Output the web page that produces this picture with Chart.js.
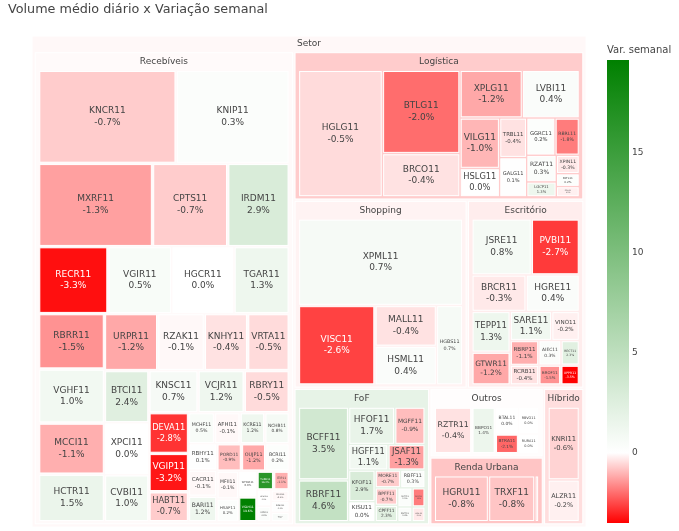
<!DOCTYPE html>
<html>
<head>
<meta charset="utf-8">
<script src="https://cdn.jsdelivr.net/npm/chart.js@4.4.1/dist/chart.umd.min.js"></script>
<style>
  html, body { margin: 0; padding: 0; background: #fff; }
</style>
</head>
<body>
<canvas id="chart" width="679" height="531"></canvas>
<script>
// Volume médio diário (tamanho) x Variação semanal (cor), por setor
const rootLabel = 'Setor';

const tickers = [
  // Recebíveis
  'KNCR11', 'KNIP11', 'MXRF11', 'CPTS11', 'IRDM11', 'RECR11', 'VGIR11', 'HGCR11',
  'TGAR11', 'RBRR11', 'VGHF11', 'MCCI11', 'HCTR11', 'URPR11', 'RZAK11', 'KNHY11',
  'VRTA11', 'BTCI11', 'XPCI11', 'CVBI11', 'KNSC11', 'VCJR11', 'RBRY11', 'DEVA11',
  'VGIP11', 'HABT11', 'MCHF11', 'AFHI11', 'KCRE11', 'NCHB11', 'RBHY11', 'CACR11',
  'BARI11', 'PORD11', 'OUJP11', 'BCRI11', 'MFII11', 'HSAF11', 'WHGR11', 'VSLH11',
  'TORD11', 'ITIP11', 'HCHG11', 'VCRI11', 'PLCR11', 'RZAG11', 'SPXS11',
  // Logística
  'HGLG11', 'BTLG11', 'BRCO11', 'XPLG11', 'LVBI11', 'VILG11', 'HSLG11', 'TRBL11',
  'GALG11', 'GGRC11', 'RBRL11', 'RZAT11', 'LGCP11', 'XPIN11', 'PATL11', 'SDIL11',
  // Shopping
  'XPML11', 'VISC11', 'MALL11', 'HSML11', 'HGBS11',
  // Escritório
  'JSRE11', 'PVBI11', 'BRCR11', 'HGRE11', 'TEPP11', 'GTWR11', 'SARE11', 'VINO11',
  'RBRP11', 'RCRB11', 'AIEC11', 'RECT11', 'BROF11', 'XPPR11',
  // FoF
  'BCFF11', 'RBRF11', 'HFOF11', 'MGFF11', 'HGFF11', 'JSAF11', 'KFOF11', 'KISU11',
  'MORE11', 'RBFF11', 'BPFF11', 'CPFF11', 'OUFF11', 'RFOF11', 'SNFF11', 'XPSF11',
  // Outros
  'RZTR11', 'BBPO11', 'BTAL11', 'RBVO11', 'BTRA11', 'RURA11',
  // Renda Urbana
  'HGRU11', 'TRXF11', 'RBVA11',
  // Híbrido
  'KNRI11', 'ALZR11'
];

const sectorOf = [
  'Recebíveis', 'Recebíveis', 'Recebíveis', 'Recebíveis', 'Recebíveis', 'Recebíveis', 'Recebíveis', 'Recebíveis',
  'Recebíveis', 'Recebíveis', 'Recebíveis', 'Recebíveis', 'Recebíveis', 'Recebíveis', 'Recebíveis', 'Recebíveis',
  'Recebíveis', 'Recebíveis', 'Recebíveis', 'Recebíveis', 'Recebíveis', 'Recebíveis', 'Recebíveis', 'Recebíveis',
  'Recebíveis', 'Recebíveis', 'Recebíveis', 'Recebíveis', 'Recebíveis', 'Recebíveis', 'Recebíveis', 'Recebíveis',
  'Recebíveis', 'Recebíveis', 'Recebíveis', 'Recebíveis', 'Recebíveis', 'Recebíveis', 'Recebíveis', 'Recebíveis',
  'Recebíveis', 'Recebíveis', 'Recebíveis', 'Recebíveis', 'Recebíveis', 'Recebíveis', 'Recebíveis',
  'Logística', 'Logística', 'Logística', 'Logística', 'Logística', 'Logística', 'Logística', 'Logística',
  'Logística', 'Logística', 'Logística', 'Logística', 'Logística', 'Logística', 'Logística', 'Logística',
  'Shopping', 'Shopping', 'Shopping', 'Shopping', 'Shopping',
  'Escritório', 'Escritório', 'Escritório', 'Escritório', 'Escritório', 'Escritório', 'Escritório', 'Escritório',
  'Escritório', 'Escritório', 'Escritório', 'Escritório', 'Escritório', 'Escritório',
  'FoF', 'FoF', 'FoF', 'FoF', 'FoF', 'FoF', 'FoF', 'FoF',
  'FoF', 'FoF', 'FoF', 'FoF', 'FoF', 'FoF', 'FoF', 'FoF',
  'Outros', 'Outros', 'Outros', 'Outros', 'Outros', 'Outros',
  'Renda Urbana', 'Renda Urbana', 'Renda Urbana',
  'Híbrido', 'Híbrido'
];

const volumes = [
  135, 111, 100, 66, 54, 49, 45, 44,
  39, 38.5, 37.5, 35.5, 33, 32, 28, 26,
  25, 24.5, 24.4, 22, 21.8, 20.5, 20, 17,
  16, 12.5, 8.5, 8.4, 8.1, 8.0, 7.9, 7.8,
  7.6, 7.1, 7.0, 6.8, 6.4, 5.2, 5.0, 4.8,
  3.3, 3.1, 2.4, 2.3, 2.2, 2.1, 1.8,
  125, 76, 39.5, 35, 32, 23.5, 13.2, 12.6,
  12.5, 12.4, 10.7, 9.3, 5.2, 5.0, 3.5, 2.8,
  164.9, 70.6, 29.1, 27.6, 24.2,
  39.7, 32.1, 23.6, 23.2, 18.6, 15.0, 14.4, 9.6,
  8.5, 6.7, 6.5, 5.4, 5.2, 4.4,
  45.3, 26.0, 21.4, 14.1, 12.5, 11.8, 10.4, 6.6,
  5.6, 5.4, 4.9, 4.6, 3.4, 3.1, 2.6, 2.4,
  27.2, 17.0, 9.7, 8.5, 7.1, 6.2,
  38.9, 33.3, 2.8,
  34.2, 19.6
];

// variação semanal (%)
const variations = [
  -0.7, 0.3, -1.3, -0.7, 2.9, -3.3, 0.5, 0.0,
  1.3, -1.5, 1.0, -1.1, 1.5, -1.2, -0.1, -0.4,
  -0.5, 2.4, 0.0, 1.0, 0.7, 1.2, -0.5, -2.8,
  -3.2, -0.7, 0.5, -0.1, 1.2, 0.8, 0.1, -0.1,
  1.2, -0.9, -1.2, 0.2, -0.1, 0.2, 0.0, 19.6,
  16.4, -1.1, 0.0, 0.3, -0.1, 0.1, 0.4,
  -0.5, -2.0, -0.4, -1.2, 0.4, -1.0, 0.0, -0.4,
  0.1, 0.2, -1.8, 0.3, 1.3, -0.3, 0.2, -0.2,
  0.7, -2.6, -0.4, 0.4, 0.7,
  0.8, -2.7, -0.3, 0.4, 1.3, -1.2, 1.1, -0.2,
  -1.1, -0.4, 0.3, 2.3, -1.5, -3.5,
  3.5, 4.6, 1.7, -0.9, 1.1, -1.3, 2.9, 0.0,
  -0.7, 0.3, -0.7, 2.3, 0.3, -1.8, 0.4, -0.3,
  -0.4, 1.4, 0.0, 0.0, -2.1, 0.0,
  -0.8, -0.8, -0.6,
  -0.6, -0.2
];

const colorbarTicks = [0, 5, 10, 15];

const FONT = '"DejaVu Sans", Verdana, sans-serif';
const TEXT_DARK = '#444';
const TM_W = 554, TM_H = 491;
const PAD_ROOT = { t: 16.7, l: 3.2, r: 3.2, b: 3.2 };
const PAD_SECTOR = { t: 18.8, l: 4.6, r: 4.6, b: 3.3 };
const PAD_INNER = 2.4;
const SQUARIFY_RATIO = 1;

const vMin = Math.min(...variations);
const vMax = Math.max(...variations);

// red -> white (0) -> green
function colorFor(v) {
    let r, g, b;
    if (v < 0) {
        const t = Math.min(1, v / vMin);
        r = 255; g = b = 255 * (1 - t);
    } else {
        const t = Math.min(1, v / vMax);
        r = b = 255 * (1 - t); g = 255 - 127 * t;
    }
    return [Math.round(r), Math.round(g), Math.round(b)];
}

function textColorFor(rgb) {
    const brightness = (rgb[0] * 299 + rgb[1] * 587 + rgb[2] * 114) / 1000;
    return brightness < 128 ? '#fff' : TEXT_DARK;
}

function buildTree() {
    const root = { name: rootLabel, depth: 0, children: [] };
    const bySector = {};
    tickers.forEach((t, i) => {
        const s = sectorOf[i];
        if (!bySector[s]) {
            bySector[s] = { name: s, depth: 1, children: [] };
            root.children.push(bySector[s]);
        }
        bySector[s].children.push({ name: t, depth: 2, value: volumes[i], v: variations[i] });
    });
    const sum = node => {
        if (!node.children) return;
        let total = 0, weighted = 0;
        node.children.forEach(c => {
            sum(c);
            total += c.value;
            weighted += c.value * c.v;
        });
        node.value = total;
        node.v = weighted / total;
        node.children.sort((a, b) => b.value - a.value);
    };
    sum(root);
    return root;
}

function dice(row, total, x0, y0, x1, y1) {
    const k = total ? (x1 - x0) / total : 0;
    row.forEach(n => { n.y0 = y0; n.y1 = y1; n.x0 = x0; n.x1 = x0 += n.value * k; });
}

function slice(row, total, x0, y0, x1, y1) {
    const k = total ? (y1 - y0) / total : 0;
    row.forEach(n => { n.x0 = x0; n.x1 = x1; n.y0 = y0; n.y1 = y0 += n.value * k; });
}

function squarify(parent, x0, y0, x1, y1) {
    const nodes = parent.children, n = nodes.length;
    let value = parent.value, i0 = 0, i1 = 0;
    while (i0 < n) {
        const dx = x1 - x0, dy = y1 - y0;
        let sumValue;
        do sumValue = nodes[i1++].value; while (!sumValue && i1 < n);
        let minValue = sumValue, maxValue = sumValue;
        const alpha = Math.max(dy / dx, dx / dy) / (value * SQUARIFY_RATIO);
        let beta = sumValue * sumValue * alpha;
        let minRatio = Math.max(maxValue / beta, beta / minValue);
        for (; i1 < n; ++i1) {
            const nv = nodes[i1].value;
            sumValue += nv;
            if (nv < minValue) minValue = nv;
            if (nv > maxValue) maxValue = nv;
            beta = sumValue * sumValue * alpha;
            const newRatio = Math.max(maxValue / beta, beta / minValue);
            if (newRatio > minRatio) { sumValue -= nv; break; }
            minRatio = newRatio;
        }
        const row = nodes.slice(i0, i1);
        if (dx < dy) {
            const ny = value ? y0 + dy * sumValue / value : y1;
            dice(row, sumValue, x0, y0, x1, ny);
            y0 = ny;
        } else {
            const nx = value ? x0 + dx * sumValue / value : x1;
            slice(row, sumValue, x0, y0, nx, y1);
            x0 = nx;
        }
        value -= sumValue;
        i0 = i1;
    }
}

function layoutTree(root, w, h) {
    root.x0 = 0; root.y0 = 0; root.x1 = w; root.y1 = h;
    const stack = [0];
    const visit = node => {
        const p = stack[node.depth];
        let x0 = node.x0 + p, y0 = node.y0 + p, x1 = node.x1 - p, y1 = node.y1 - p;
        if (x1 < x0) x0 = x1 = (x0 + x1) / 2;
        if (y1 < y0) y0 = y1 = (y0 + y1) / 2;
        node.x0 = x0; node.y0 = y0; node.x1 = x1; node.y1 = y1;
        if (node.children) {
            const q = stack[node.depth + 1] = PAD_INNER / 2;
            const pad = node.depth === 0 ? PAD_ROOT : PAD_SECTOR;
            x0 += pad.l - q; y0 += pad.t - q;
            x1 -= pad.r - q; y1 -= pad.b - q;
            squarify(node, x0, y0, x1, y1);
            node.children.forEach(visit);
        }
    };
    visit(root);
}

function fmtPct(v) {
    return v.toFixed(1) + '%';
}

const treemapPlugin = {
    id: 'treemap',
    afterDatasetsDraw(chart) {
        const { ctx } = chart;
        const xs = chart.scales.x, ys = chart.scales.y;
        const root = buildTree();
        layoutTree(root, xs.max, ys.max);

        ctx.save();
        ctx.textAlign = 'center';
        ctx.textBaseline = 'middle';

        const drawNode = node => {
            const L = xs.getPixelForValue(node.x0), R = xs.getPixelForValue(node.x1);
            const T = ys.getPixelForValue(node.y0), B = ys.getPixelForValue(node.y1);
            const w = R - L, h = B - T;
            const rgb = colorFor(node.v);
            ctx.fillStyle = 'rgb(' + rgb.join(',') + ')';
            ctx.fillRect(L, T, w, h);
            ctx.strokeStyle = '#fff';
            ctx.lineWidth = 1;
            ctx.strokeRect(L, T, w, h);

            if (node.children) {
                // header
                const pad = node.depth === 0 ? PAD_ROOT : PAD_SECTOR;
                let size = 9;
                ctx.font = size + 'px ' + FONT;
                const tw = ctx.measureText(node.name).width;
                if (tw > w - 6) size = size * (w - 6) / tw;
                ctx.font = size + 'px ' + FONT;
                ctx.fillStyle = TEXT_DARK;
                ctx.fillText(node.name, (L + R) / 2, ys.getPixelForValue(node.y0 + pad.t * 0.48));
                node.children.forEach(drawNode);
            } else {
                const lines = [node.name, fmtPct(node.v)];
                const base = 9;
                ctx.font = base + 'px ' + FONT;
                const tw = Math.max(...lines.map(s => ctx.measureText(s).width));
                const th = base * 2.3;
                const scale = Math.min(1, (w - 4) / tw, (h - 4) / th);
                if (scale <= 0) return;
                const size = base * scale;
                ctx.font = size + 'px ' + FONT;
                ctx.fillStyle = textColorFor(rgb);
                const cx = (L + R) / 2, cy = (T + B) / 2;
                ctx.fillText(lines[0], cx, cy - size * 0.65);
                ctx.fillText(lines[1], cx, cy + size * 0.65);
            }
        };
        drawNode(root);
        ctx.restore();
    },
    afterDraw(chart) {
        const { ctx } = chart;
        ctx.save();
        ctx.textBaseline = 'middle';
        ctx.textAlign = 'left';
        ctx.fillStyle = TEXT_DARK;

        // title
        ctx.font = '12.75px ' + FONT;
        ctx.fillText('Volume médio diário x Variação semanal', 8, 10);

        // colorbar
        const cbX = 607, cbW = 22, cbTop = 60, cbBot = 523;
        const grad = ctx.createLinearGradient(0, cbTop, 0, cbBot);
        grad.addColorStop(0, 'rgb(0,128,0)');
        grad.addColorStop(vMax / (vMax - vMin), 'rgb(255,255,255)');
        grad.addColorStop(1, 'rgb(255,0,0)');
        ctx.fillStyle = grad;
        ctx.fillRect(cbX, cbTop, cbW, cbBot - cbTop);

        ctx.fillStyle = TEXT_DARK;
        ctx.font = '10px ' + FONT;
        ctx.fillText('Var. semanal', cbX, 50);
        ctx.font = '9px ' + FONT;
        colorbarTicks.forEach(t => {
            const y = cbTop + (vMax - t) / (vMax - vMin) * (cbBot - cbTop);
            ctx.fillText(String(t), cbX + cbW + 3, y);
        });
        ctx.restore();
    }
};

new Chart(document.getElementById('chart'), {
    type: 'scatter',
    data: { datasets: [] },
    options: {
        responsive: false,
        animation: false,
        layout: { padding: { left: 32, top: 36, right: 93, bottom: 4 } },
        plugins: {
            legend: { display: false },
            tooltip: { enabled: false }
        },
        scales: {
            x: { type: 'linear', min: 0, max: TM_W, display: false },
            y: { type: 'linear', min: 0, max: TM_H, reverse: true, display: false }
        }
    },
    plugins: [treemapPlugin]
});
</script>
</body>
</html>
